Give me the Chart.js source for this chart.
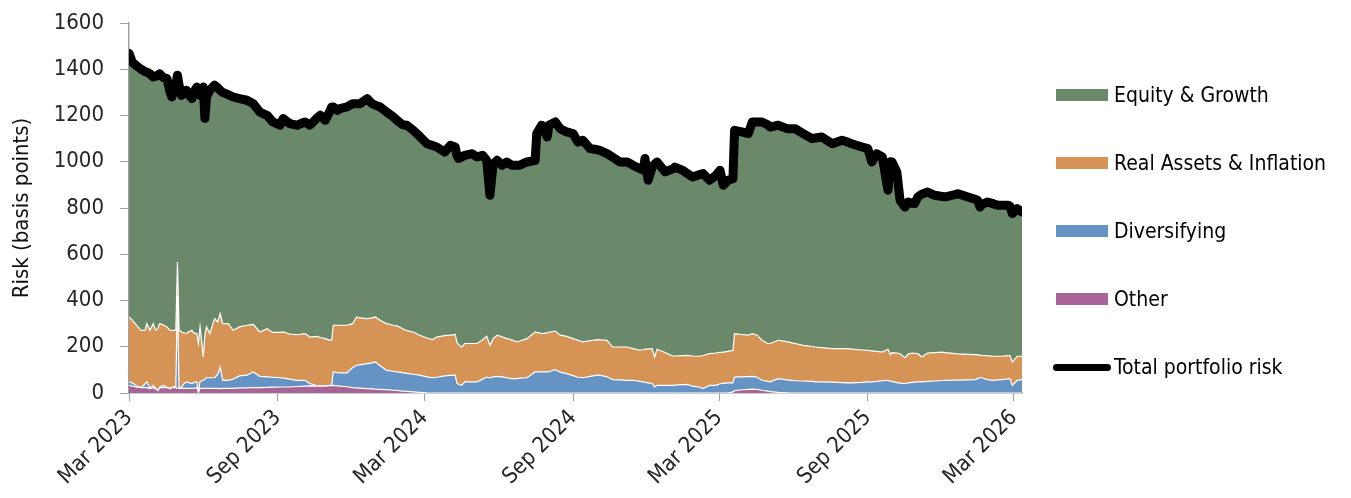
<!DOCTYPE html>
<html>
<head>
<meta charset="utf-8">
<script src="https://cdn.jsdelivr.net/npm/chart.js@4.4.1/dist/chart.umd.min.js"></script>
<style>
  html, body { margin: 0; padding: 0; background: #fff; }
  #wrap { position: relative; width: 1351px; height: 498px; }
  #c { position: absolute; left: 0; top: 0; }
  .item { position: absolute; left: 1053px; display: flex; align-items: center; transform: translateY(-50%);
          font-family: 'DejaVu Sans Condensed', 'Liberation Sans Narrow', sans-serif; font-size: 21px; color: #000; white-space: nowrap; }
  .sw { display: inline-block; width: 52px; height: 12px; margin-left: 3px; margin-right: 6px; }
  .ln { display: inline-block; width: 58px; height: 7px; border-radius: 4px; background: #000; margin-right: 3px; }
</style>
</head>
<body>
<div id="wrap">
  <canvas id="c" width="1351" height="498"></canvas>
  <div class="item" style="top:95px"><span class="sw" style="background:#6a896a"></span><span>Equity &amp; Growth</span></div>
  <div class="item" style="top:163px"><span class="sw" style="background:#d59455"></span><span>Real Assets &amp; Inflation</span></div>
  <div class="item" style="top:231px"><span class="sw" style="background:#6593c4"></span><span>Diversifying</span></div>
  <div class="item" style="top:299px"><span class="sw" style="background:#a86497"></span><span>Other</span></div>
  <div class="item" style="top:367px"><span class="ln"></span><span>Total portfolio risk</span></div>
</div>
<script>
// x positions: days since 1 Mar 2023
const days = [0,4,10,15,20,22,26,30,33,36,
  38,42,47,51,53,58,60,62,65,68,
  71,74,78,80,84,86,88,92,94,96,
  100,106,110,113,116,123,129,137,146,154,
  162,171,178,187,191,199,208,218,224,233,
  237,243,249,251,253,258,261,270,277,282,
  286,295,301,305,311,319,327,332,339,344,
  352,360,369,376,381,391,398,404,406,408,
  412,416,425,431,438,443,447,451,456,462,
  468,474,480,484,493,503,505,511,518,520,
  528,534,542,550,556,562,571,580,583,592,
  599,608,617,624,633,637,639,643,648,651,
  654,664,674,676,686,691,698,707,711,719,
  727,732,736,742,748,750,759,767,772,778,
  784,791,794,804,815,821,825,835,846,850,
  858,871,883,890,895,908,915,920,926,933,
  940,943,945,951,955,961,965,970,973,977,
  982,989,998,1007,1011,1023,1027,1039,1048,1051,
  1054,1056,1063,1069,1076,1081,1089,1091,1094,1100,
  1106];

// Total portfolio risk (bp)
const totalRisk = [1469,1431,1413,1400,1390,1388,1380,1367,1370,1375,
  1381,1365,1360,1300,1280,1330,1374,1330,1287,1300,
  1309,1290,1273,1300,1323,1300,1287,1323,1187,1280,
  1309,1331,1320,1309,1300,1290,1280,1273,1266,1251,
  1215,1201,1172,1158,1187,1165,1158,1172,1158,1190,
  1201,1179,1220,1237,1237,1222,1230,1237,1251,1251,
  1251,1273,1251,1245,1237,1215,1195,1179,1160,1158,
  1136,1110,1078,1070,1064,1042,1071,1064,1030,1014,
  1020,1028,1035,1021,1028,1006,855,990,1006,985,
  999,985,985,985,999,1006,1122,1158,1107,1158,
  1172,1143,1129,1122,1085,1093,1057,1052,1049,1035,
  1020,999,999,985,970,963,1014,920,977,990,
  999,956,970,977,963,950,934,945,949,920,
  941,963,898,920,927,1136,1129,1122,1172,1172,
  1172,1160,1150,1158,1143,1143,1143,1122,1100,1103,
  1107,1078,1093,1085,1078,1064,1057,999,1035,1021,
  877,1000,999,956,833,804,826,820,819,848,
  860,869,855,850,848,858,862,848,838,833,
  804,815,826,820,812,812,812,808,776,797,
  783];

// Other (bp)
const other = [33,30,25,23,23,23,19,23,18,10,
  23,23,23,18,23,23,20,20,20,20,
  20,20,20,20,23,2,20,20,20,20,
  20,20,20,19,20,20,20,22,22,23,
  23,24,25,26,26,26,28,30,31,30,
  30,30,32,32,33,31,30,27,23,22,
  21,19,18,17,16,15,12,11,8,7,
  5,3,1,0,0,0,0,0,0,0,
  0,0,0,0,0,0,0,0,0,0,
  0,0,0,0,0,0,0,0,0,0,
  0,0,0,0,0,0,0,0,0,0,
  0,0,0,0,0,0,0,0,0,0,
  0,0,0,0,0,0,0,0,0,0,
  0,0,0,0,5,10,14,16,17,16,
  12,8,6,3,1,0,0,0,0,0,
  0,0,0,0,0,0,0,0,0,0,
  0,0,0,0,0,0,0,0,0,0,
  0,0,0,0,0,0,0,0,0,0,
  0,0,0,0,0,0,0,0,0,0,
  0];

// Diversifying (bp)
const diversifying = [15,14,5,0,17,25,2,10,2,2,
  2,10,2,1,2,6,400,5,3,20,
  28,25,21,25,25,2,30,35,40,46,
  46,46,60,93,35,35,40,52,55,68,
  49,46,43,40,38,34,27,25,10,1,
  1,1,1,1,58,57,57,60,87,98,
  101,108,112,117,102,83,82,80,80,78,
  76,74,69,66,68,74,76,77,44,38,
  33,48,48,48,60,69,65,70,72,70,
  66,62,62,64,66,91,91,91,91,92,
  101,90,84,75,68,66,72,77,77,70,
  58,57,55,55,50,48,46,44,41,26,
  33,33,33,34,36,37,30,25,19,33,
  33,40,42,44,39,59,56,55,55,52,
  43,42,42,59,56,55,53,52,50,48,
  48,47,45,44,44,46,48,48,50,53,
  55,50,50,45,43,41,44,46,47,48,
  48,50,52,54,55,56,56,57,58,62,
  66,66,58,55,57,58,61,62,33,55,
  58];

// Real Assets & Inflation (bp)
const realAssets = [281,271,260,248,231,252,250,267,251,268,
  275,262,260,252,246,242,146,246,241,220,
  209,220,230,215,209,210,236,101,190,220,
  191,256,227,231,245,245,211,212,216,206,
  192,208,194,196,200,195,197,202,201,214,
  209,204,195,195,202,205,206,206,190,209,
  203,195,195,195,197,202,199,199,190,185,
  183,173,168,165,174,174,174,176,177,172,
  166,166,166,166,170,176,141,165,178,173,
  169,168,159,161,169,173,171,166,169,170,
  167,160,161,160,160,155,154,154,153,158,
  141,142,144,137,135,140,144,146,151,130,
  156,142,126,126,126,126,130,134,143,137,
  140,136,135,136,141,188,183,179,185,182,
  173,164,166,166,165,162,161,154,151,151,
  148,145,147,148,146,140,136,134,130,124,
  134,116,125,128,127,112,124,127,125,122,
  108,123,123,123,120,114,113,110,108,103,
  98,97,104,104,102,101,101,101,101,104,
  101];

// Equity & Growth = total minus the other three components
const equityGrowth = totalRisk.map((t, i) => t - other[i] - diversifying[i] - realAssets[i]);

const tickDays = [0, 184, 366, 550, 731, 915, 1096];
const tickLabels = ['Mar 2023', 'Sep 2023', 'Mar 2024', 'Sep 2024', 'Mar 2025', 'Sep 2025', 'Mar 2026'];

const pts = arr => days.map((d, i) => ({ x: d, y: arr[i] }));
const FONT = "'DejaVu Sans Condensed', 'Liberation Sans Narrow', sans-serif";
const AXIS = '#a0a0a0';
const TXT = '#262626';

new Chart(document.getElementById('c'), {
  type: 'line',
  data: {
    datasets: [
      { label: 'Total portfolio risk', data: pts(totalRisk), stack: 'total', borderColor: '#000', borderWidth: 9,
        borderCapStyle: 'round', borderJoinStyle: 'round', fill: false, pointRadius: 0 },
      { label: 'Other', data: pts(other), stack: 'risk', backgroundColor: '#a86497', borderColor: '#fff', borderWidth: 1.2, fill: 'origin', pointRadius: 0 },
      { label: 'Diversifying', data: pts(diversifying), stack: 'risk', backgroundColor: '#6593c4', borderColor: '#fff', borderWidth: 1.2, fill: '-1', pointRadius: 0 },
      { label: 'Real Assets & Inflation', data: pts(realAssets), stack: 'risk', backgroundColor: '#d59455', borderColor: '#fff', borderWidth: 1.2, fill: '-1', pointRadius: 0 },
      { label: 'Equity & Growth', data: pts(equityGrowth), stack: 'risk', backgroundColor: '#6a896a', borderColor: 'rgba(0,0,0,0)', borderWidth: 0, fill: '-1', pointRadius: 0 }
    ]
  },
  options: {
    responsive: false,
    animation: false,
    layout: { padding: { top: 23, right: 329, bottom: 0, left: 0 } },
    plugins: { legend: { display: false }, tooltip: { enabled: false } },
    elements: { line: { tension: 0 }, point: { radius: 0 } },
    scales: {
      x: {
        type: 'linear', min: 0, max: 1106,
        afterBuildTicks: s => { s.ticks = tickDays.map(v => ({ value: v })); },
        afterFit: s => { s.height = 105; },
        ticks: { autoSkip: false, minRotation: 45, maxRotation: 45, padding: 4,
                 callback: (v, i) => tickLabels[i], font: { family: FONT, size: 22 }, color: TXT },
        grid: { drawOnChartArea: false, drawTicks: true, tickLength: 8, color: AXIS },
        border: { display: true, color: AXIS, width: 1.5 }
      },
      y: {
        stacked: true, min: 0, max: 1600,
        afterFit: s => { s.width = 129; s.paddingTop = 0; s.paddingBottom = 0; },
        ticks: { stepSize: 200, padding: 16, font: { family: FONT, size: 22 }, color: TXT,
                 callback: v => String(v) },
        grid: { drawOnChartArea: false, drawTicks: true, tickLength: 9, color: AXIS },
        border: { display: true, color: AXIS, width: 1.5 },
        title: { display: true, text: 'Risk (basis points)', font: { family: FONT, size: 22 }, color: '#111', padding: { top: 9, bottom: 0 } }
      }
    }
  }
});
</script>
</body>
</html>
